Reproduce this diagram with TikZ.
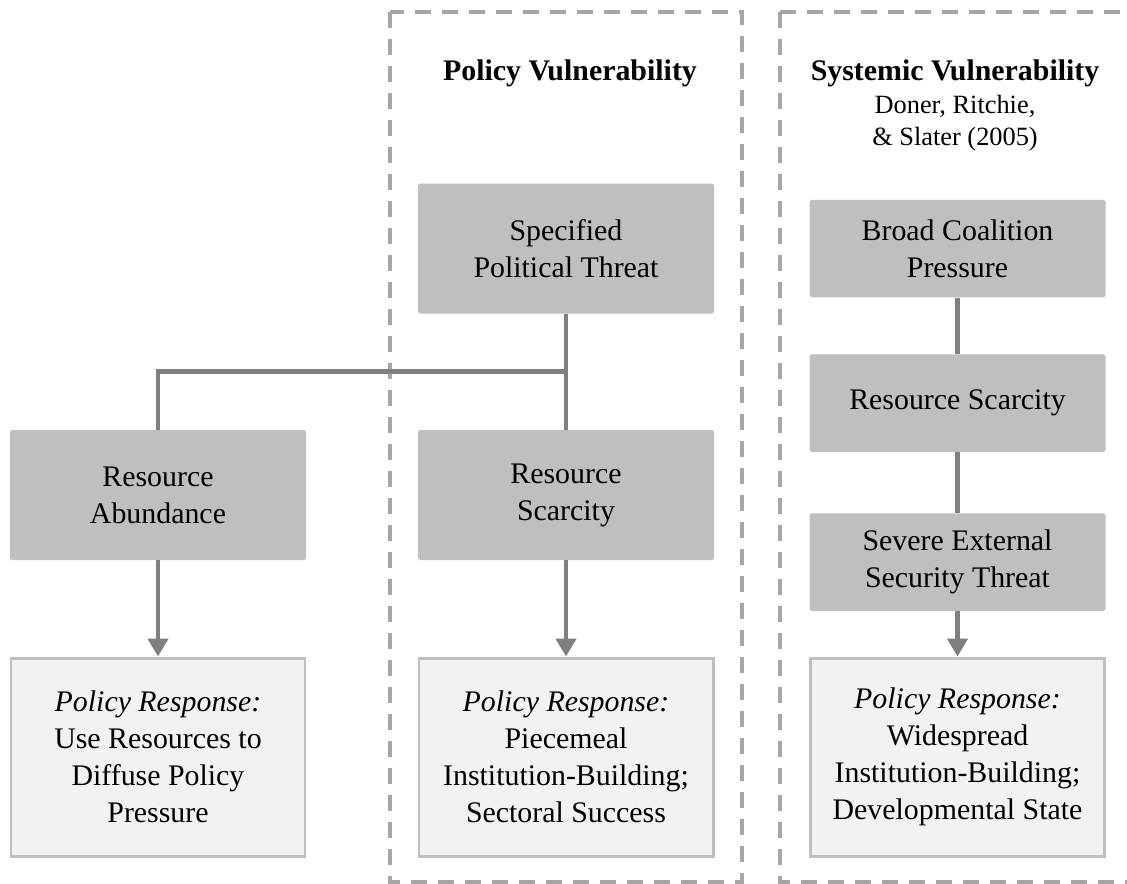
\documentclass[tikz,border=0pt]{standalone}
\usepackage{fontspec}
\setmainfont{Liberation Serif}
\usetikzlibrary{positioning, arrows.meta}

\definecolor{factorgray}{HTML}{BFBFBF}
\definecolor{responsefill}{HTML}{F2F2F2}
\definecolor{linkgray}{HTML}{7F7F7F}
\definecolor{framegray}{HTML}{A6A6A6}

\begin{document}
\begin{tikzpicture}[>={Triangle[width=0.4cm, length=0.36cm]}, font=\fontsize{17}{21}\selectfont,
  factor/.style={rectangle, rounded corners=1pt, fill=factorgray, align=center,
    minimum width=5.92cm, minimum height=2.6cm, inner sep=0pt},
  shortfactor/.style={factor, minimum height=1.95cm},
  response/.style={rectangle, fill=responsefill, draw=factorgray, line width=1.7pt, align=center,
    minimum width=5.88cm, minimum height=3.96cm, inner sep=0pt},
  link/.style={draw=linkgray, line width=2.8pt},
  frame/.style={draw=framegray, line width=2.1pt, dash pattern=on 0.32cm off 0.22cm},
  heading/.style={anchor=base, font=\fontsize{17}{21}\selectfont\bfseries},
  citeline/.style={anchor=base, font=\fontsize{15}{18.5}\selectfont}]
    \useasboundingbox (0,0) rectangle (22.54,-17.66);

    % dashed frames
    \draw[frame] (7.8,-0.24) rectangle (14.84,-17.64);
    \draw[frame] (15.6,-0.24) rectangle (23.2,-17.64);

    \node[heading] (policyhead) at (11.4,-1.6) {Policy Vulnerability};
    \node[heading] (systemhead) at (19.1,-1.6) {Systemic Vulnerability};
    \node[citeline] (cite1) at (19.1,-2.26) {Doner, Ritchie,};
    \node[citeline] (cite2) at (19.1,-2.9) {\& Slater (2005)};

    % policy vulnerability
    \node[factor] (threat) at (11.32,-4.97) {Specified\\Political Threat};
    \node[factor] (scarP) [below of=threat, node distance=4.93cm] {Resource\\Scarcity};
    \node[factor] (abund) [left of=scarP, node distance=8.16cm] {Resource\\Abundance};
    \node[response] (respA) [below of=abund, node distance=5.24cm] {\textit{Policy Response:}\\Use Resources to\\Diffuse Policy\\Pressure};
    \node[response] (respP) [right of=respA, node distance=8.16cm] {\textit{Policy Response:}\\Piecemeal\\Institution-Building;\\Sectoral Success};

    % systemic vulnerability
    \node[shortfactor] (broad) at (19.15,-4.97) {Broad Coalition\\Pressure};
    \node[shortfactor] (scarS) [below of=broad, node distance=3.09cm] {Resource Scarcity};
    \node[shortfactor] (severe) [below of=scarS, node distance=3.18cm] {Severe External\\Security Threat};
    \node[response] (respS) [below of=severe, node distance=3.9cm] {\textit{Policy Response:}\\Widespread\\Institution-Building;\\Developmental State};

    \path (threat.south) -- (scarP.north) coordinate[pos=0.5] (fork);

    \draw[link] (threat) -- (scarP);
    \draw[link] (fork) -| (abund);
    \draw[link, ->] (abund) -- (respA);
    \draw[link, ->] (scarP) -- (respP);
    \draw[link] (broad) -- (scarS);
    \draw[link] (scarS) -- (severe);
    \draw[link, ->] (severe) -- (respS);
\end{tikzpicture}
\end{document}
